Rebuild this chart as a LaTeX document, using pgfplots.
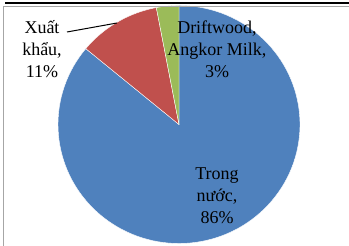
\documentclass[border=0pt]{standalone}
\usepackage{fontspec}
\setmainfont{Liberation Serif}
\usepackage{pgfplots}
\pgfplotsset{compat=1.18}
\definecolor{cblue}{HTML}{4F81BD}
\definecolor{cred}{HTML}{C0504D}
\definecolor{cgreen}{HTML}{9BBB59}
% data (percent)
\def\vTrong{86}
\def\vXuat{11}
\def\vDrift{3}
\begin{document}
\begin{tikzpicture}
\pgfmathsetmacro\aStart{90}
\pgfmathsetmacro\aA{90-3.6*\vTrong}
\pgfmathsetmacro\aB{\aA-3.6*\vXuat}
\pgfmathsetmacro\aC{\aB-3.6*\vDrift}
\begin{axis}[
  scale only axis, width=349pt, height=246pt,
  xmin=0, xmax=349, ymin=0, ymax=246,
  axis lines=none, clip=false,
]
\addplot[draw=white, line width=0.4pt, fill=cblue, domain=\aA:\aStart, samples=120]
  ({179+121*cos(x)},{121.5+119*sin(x)}) -- (axis cs:179,121.5) -- cycle;
\addplot[draw=white, line width=0.4pt, fill=cred, domain=\aB:\aA, samples=40]
  ({179+121*cos(x)},{121.5+119*sin(x)}) -- (axis cs:179,121.5) -- cycle;
\addplot[draw=white, line width=0.4pt, fill=cgreen, domain=\aC:\aB, samples=20]
  ({179+121*cos(x)},{121.5+119*sin(x)}) -- (axis cs:179,121.5) -- cycle;
% frame fragments
\draw[line width=2pt] (axis cs:5,242.5) -- (axis cs:349,242.5);
\draw[gray!70, line width=0.8pt] (axis cs:3,239.5) -- (axis cs:349,239.5);
\draw[gray!70, line width=0.8pt] (axis cs:3,239.5) -- (axis cs:3,0);
% labels
\draw[black, line width=1pt] (axis cs:67,214) -- (axis cs:117,223);
\node[align=center, font=\fontsize{18}{22}\selectfont] at (axis cs:42,197) {Xuất\\khẩu,\\11\%};
\node[align=center, font=\fontsize{18}{22}\selectfont] at (axis cs:217,197) {Driftwood,\\Angkor Milk,\\3\%};
\node[align=center, font=\fontsize{18}{22}\selectfont] at (axis cs:217,50) {Trong\\nước,\\86\%};
\end{axis}
\pgfresetboundingbox
\path (0,0) rectangle (349pt,246pt);
\end{tikzpicture}
\end{document}
